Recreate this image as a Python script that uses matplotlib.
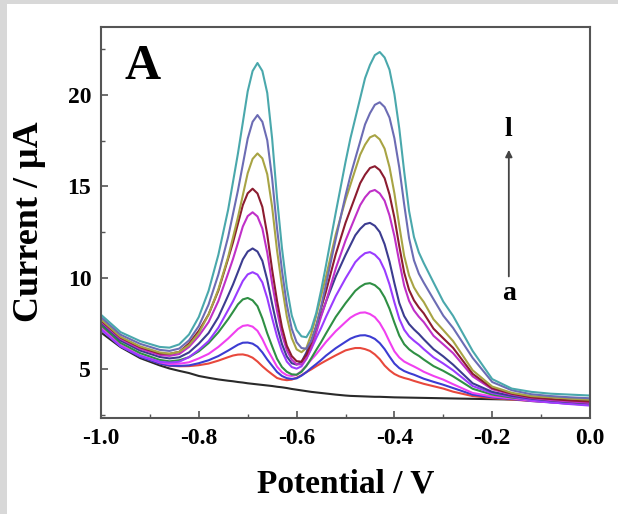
import matplotlib
matplotlib.use("Agg")
import matplotlib.pyplot as plt
from matplotlib.ticker import MultipleLocator, FormatStrFormatter
from matplotlib.patches import Rectangle

plt.rcParams['axes.unicode_minus'] = False
plt.rcParams['font.family'] = ['Liberation Serif', 'DejaVu Serif']

potential = [-1.00, -0.96, -0.92, -0.88, -0.86, -0.84, -0.82, -0.80, -0.78, -0.76,
             -0.74, -0.73, -0.72, -0.71, -0.70, -0.69, -0.68, -0.67, -0.66, -0.65, -0.64,
             -0.63, -0.62, -0.61, -0.60, -0.59, -0.58, -0.57, -0.56, -0.55, -0.54, -0.52, -0.50,
             -0.49, -0.48, -0.47, -0.46, -0.45, -0.44, -0.43, -0.42, -0.41, -0.40,
             -0.39, -0.38, -0.37, -0.36, -0.35, -0.34, -0.32, -0.30, -0.28,
             -0.24, -0.20, -0.16, -0.12, -0.08, -0.04, 0.00]

curve_a = [7.00, 6.20, 5.60, 5.20, 5.03, 4.90, 4.78, 4.62, 4.52, 4.43,
           4.36, 4.33, 4.29, 4.26, 4.22, 4.19, 4.16, 4.13, 4.10, 4.07, 4.03,
           4.00, 3.96, 3.91, 3.87, 3.83, 3.79, 3.75, 3.72, 3.69, 3.66, 3.60, 3.55,
           3.53, 3.52, 3.51, 3.50, 3.49, 3.48, 3.48, 3.47, 3.46, 3.45,
           3.445, 3.44, 3.435, 3.43, 3.425, 3.42, 3.41, 3.40, 3.39,
           3.37, 3.35, 3.33, 3.31, 3.29, 3.27, 3.25]
curve_b = [7.27, 6.28, 5.68, 5.30, 5.18, 5.15, 5.16, 5.21, 5.30, 5.46,
           5.65, 5.74, 5.79, 5.80, 5.74, 5.62, 5.41, 5.15, 4.92, 4.71, 4.51,
           4.43, 4.39, 4.42, 4.52, 4.66, 4.83, 4.98, 5.15, 5.31, 5.46, 5.75, 6.02,
           6.09, 6.15, 6.15, 6.09, 5.99, 5.80, 5.54, 5.19, 4.93, 4.73,
           4.60, 4.51, 4.44, 4.35, 4.27, 4.19, 4.06, 3.93, 3.76,
           3.52, 3.41, 3.33, 3.25, 3.19, 3.13, 3.08]
curve_c = [7.23, 6.25, 5.67, 5.30, 5.19, 5.17, 5.20, 5.32, 5.48, 5.71,
           6.01, 6.17, 6.33, 6.44, 6.45, 6.39, 6.22, 5.91, 5.52, 5.18, 4.84,
           4.62, 4.50, 4.46, 4.49, 4.64, 4.83, 5.06, 5.27, 5.49, 5.73, 6.14, 6.49,
           6.66, 6.77, 6.84, 6.85, 6.78, 6.65, 6.42, 6.09, 5.68, 5.30,
           5.05, 4.89, 4.78, 4.69, 4.58, 4.47, 4.30, 4.14, 3.96,
           3.60, 3.45, 3.36, 3.25, 3.17, 3.10, 3.05]
curve_d = [7.29, 6.31, 5.74, 5.37, 5.27, 5.29, 5.37, 5.58, 5.83, 6.21,
           6.67, 6.93, 7.19, 7.36, 7.40, 7.32, 7.09, 6.64, 6.08, 5.61, 5.13,
           4.83, 4.66, 4.62, 4.68, 4.90, 5.19, 5.51, 5.81, 6.14, 6.48, 7.07, 7.57,
           7.81, 7.97, 8.08, 8.10, 8.01, 7.84, 7.52, 7.06, 6.50, 5.97,
           5.63, 5.41, 5.27, 5.14, 5.00, 4.85, 4.62, 4.42, 4.17,
           3.69, 3.50, 3.39, 3.27, 3.18, 3.10, 3.05]
curve_e = [7.41, 6.43, 5.87, 5.50, 5.42, 5.48, 5.65, 5.97, 6.42, 7.01,
           7.73, 8.13, 8.54, 8.81, 8.89, 8.76, 8.44, 7.77, 6.95, 6.24, 5.56,
           5.11, 4.85, 4.71, 4.69, 4.85, 5.17, 5.59, 6.04, 6.47, 6.94, 7.85, 8.60,
           8.94, 9.28, 9.50, 9.66, 9.70, 9.59, 9.36, 8.92, 8.30, 7.54,
           6.83, 6.36, 6.08, 5.88, 5.72, 5.52, 5.16, 4.90, 4.60,
           3.92, 3.60, 3.44, 3.32, 3.24, 3.18, 3.12]
curve_f = [7.16, 6.24, 5.72, 5.40, 5.35, 5.40, 5.65, 6.05, 6.53, 7.26,
           8.23, 8.71, 9.27, 9.82, 10.18, 10.30, 10.17, 9.74, 8.88, 7.79, 6.79,
           5.98, 5.41, 5.11, 5.02, 5.15, 5.56, 6.10, 6.69, 7.24, 7.85, 8.99, 9.96,
           10.40, 10.85, 11.13, 11.34, 11.40, 11.26, 10.98, 10.42, 9.63, 8.65,
           7.75, 7.15, 6.79, 6.55, 6.34, 6.09, 5.64, 5.30, 4.93,
           4.07, 3.68, 3.49, 3.30, 3.18, 3.08, 3.00]
curve_g = [7.53, 6.56, 6.01, 5.66, 5.58, 5.64, 5.91, 6.39, 6.97, 7.84,
           9.02, 9.63, 10.31, 11.00, 11.43, 11.60, 11.43, 10.92, 9.88, 8.56, 7.35,
           6.37, 5.69, 5.32, 5.24, 5.39, 5.90, 6.54, 7.27, 7.94, 8.68, 10.06, 11.24,
           11.78, 12.32, 12.67, 12.93, 13.00, 12.84, 12.50, 11.83, 10.88, 9.70,
           8.61, 7.90, 7.46, 7.17, 6.92, 6.63, 6.09, 5.69, 5.24,
           4.22, 3.75, 3.53, 3.38, 3.28, 3.20, 3.12]
curve_h = [7.60, 6.65, 6.11, 5.77, 5.72, 5.82, 6.21, 6.81, 7.57, 8.72,
           10.24, 11.03, 11.90, 12.80, 13.37, 13.58, 13.35, 12.69, 11.37, 9.68, 8.18,
           6.91, 6.03, 5.51, 5.26, 5.25, 5.57, 6.17, 6.98, 7.86, 8.67, 10.50, 12.03,
           12.68, 13.33, 13.97, 14.40, 14.71, 14.80, 14.61, 14.21, 13.41, 12.28,
           10.87, 9.57, 8.73, 8.21, 7.86, 7.57, 6.82, 6.35, 5.87,
           4.60, 3.89, 3.61, 3.42, 3.30, 3.22, 3.15]
curve_i = [7.66, 6.72, 6.19, 5.85, 5.83, 5.94, 6.40, 7.09, 7.99, 9.29,
           11.04, 11.94, 12.95, 13.97, 14.62, 14.87, 14.61, 13.87, 12.36, 10.43, 8.73,
           7.30, 6.28, 5.71, 5.43, 5.40, 5.77, 6.44, 7.35, 8.32, 9.24, 11.28, 13.00,
           13.72, 14.44, 15.17, 15.64, 16.00, 16.10, 15.89, 15.44, 14.55, 13.29,
           11.72, 10.28, 9.33, 8.76, 8.37, 8.05, 7.21, 6.68, 6.16,
           4.74, 3.95, 3.65, 3.45, 3.36, 3.28, 3.22]
curve_j = [7.72, 6.76, 6.24, 5.91, 5.84, 5.94, 6.31, 6.97, 7.98, 9.36,
           11.13, 12.21, 13.30, 14.51, 15.72, 16.50, 16.80, 16.53, 15.66, 13.86, 11.49,
           9.56, 7.87, 6.70, 6.08, 5.92, 6.15, 6.91, 7.89, 9.00, 10.04, 12.36, 14.25,
           15.08, 15.91, 16.73, 17.28, 17.68, 17.80, 17.57, 17.06, 16.05, 14.62,
           12.84, 11.19, 10.12, 9.47, 9.03, 8.67, 7.72, 7.13, 6.53,
           4.93, 4.04, 3.70, 3.52, 3.45, 3.38, 3.32]
curve_k = [7.84, 6.88, 6.38, 6.05, 5.99, 6.12, 6.57, 7.35, 8.53, 10.17,
           12.23, 13.50, 14.77, 16.19, 17.61, 18.53, 18.90, 18.53, 17.52, 15.42, 12.70,
           10.42, 8.52, 7.21, 6.47, 6.15, 6.11, 6.53, 7.32, 8.41, 9.62, 12.11, 14.49,
           15.58, 16.52, 17.45, 18.39, 19.00, 19.46, 19.60, 19.34, 18.76, 17.63,
           16.02, 14.01, 12.16, 10.95, 10.22, 9.73, 8.82, 7.92, 7.25,
           5.61, 4.29, 3.84, 3.62, 3.52, 3.45, 3.40]
curve_l = [7.97, 7.02, 6.53, 6.21, 6.17, 6.35, 6.89, 7.85, 9.28, 11.25,
           13.72, 15.25, 16.79, 18.49, 20.20, 21.31, 21.75, 21.31, 20.11, 17.60, 14.36,
           11.63, 9.46, 7.94, 7.14, 6.79, 6.74, 7.19, 8.05, 9.29, 10.66, 13.55, 16.33,
           17.62, 18.72, 19.82, 20.92, 21.64, 22.18, 22.35, 22.05, 21.38, 20.05,
           18.16, 15.81, 13.65, 12.23, 11.38, 10.80, 9.74, 8.69, 7.91,
           5.99, 4.45, 3.93, 3.75, 3.65, 3.60, 3.55]

curves = [curve_a, curve_b, curve_c, curve_d, curve_e, curve_f,
          curve_g, curve_h, curve_i, curve_j, curve_k, curve_l]
colors = ['#2a2a2a', '#e8483c', '#3c3cd2', '#f040f0', '#2f8f44', '#9a3cff',
          '#3c3c90', '#c030c8', '#8c1c30', '#a8a444', '#6c6cb4', '#4aa8ac']

x_ticks = [-1.0, -0.8, -0.6, -0.4, -0.2, 0.0]
y_ticks = [5, 10, 15, 20]

for ys in curves:
    assert len(ys) == len(potential)

fig = plt.figure(figsize=(6.18, 5.14), dpi=100)
fig.patch.set_facecolor('white')
fig.patches.append(Rectangle((0, 1 - 4 / 514), 1, 4 / 514, transform=fig.transFigure,
                             facecolor='#d8d8d8', edgecolor='none', zorder=0))
fig.patches.append(Rectangle((0, 0), 7 / 618, 1, transform=fig.transFigure,
                             facecolor='#d8d8d8', edgecolor='none', zorder=0))

ax = fig.add_axes([101 / 618, 1 - 418 / 514, 489 / 618, 391 / 514])
for ys, c in zip(curves, colors):
    ax.plot(potential, ys, color=c, lw=1.5, solid_joinstyle='round')

ax.set_xlim(-1.0, 0.0)
ax.set_ylim(2.32, 23.72)
ax.set_xticks(x_ticks)
ax.set_yticks(y_ticks)
ax.xaxis.set_minor_locator(MultipleLocator(0.1))
ax.yaxis.set_minor_locator(MultipleLocator(2.5))
ax.xaxis.set_major_formatter(FormatStrFormatter('%.1f'))
ax.yaxis.set_major_formatter(FormatStrFormatter('%d'))
ax.tick_params(which='both', direction='in', color='#555555', top=False, right=False)
ax.tick_params(which='major', length=5, width=1.2, labelsize=17, pad=7)
ax.tick_params(which='minor', length=3, width=1.0)
for lab in ax.get_xticklabels() + ax.get_yticklabels():
    lab.set_fontweight('bold')
for sp in ax.spines.values():
    sp.set_color('#555555')
    sp.set_linewidth(1.5)

fig.text(346 / 618, 1 - 484 / 514, 'Potential / V', ha='center', va='center',
         fontsize=24, fontweight='bold')
fig.text(30 / 618, 1 - 222 / 514, 'Current / \u03bcA', ha='center', va='center',
         rotation=90, fontsize=26, fontweight='bold')

ax.text(0.084, 0.867, 'A', transform=ax.transAxes, ha='center', va='baseline',
        fontsize=36, fontweight='bold')
ax.text(0.834, 0.721, 'l', transform=ax.transAxes, ha='center', va='baseline',
        fontsize=20, fontweight='bold')
ax.text(0.834, 0.302, 'a', transform=ax.transAxes, ha='center', va='baseline',
        fontsize=20, fontweight='bold')
ax.annotate('', xy=(0.834, 0.693), xytext=(0.834, 0.355), xycoords='axes fraction',
            arrowprops=dict(arrowstyle='-|>', color='#444444', lw=1.3,
                            mutation_scale=10))

fig.savefig('out.png', dpi=100)
